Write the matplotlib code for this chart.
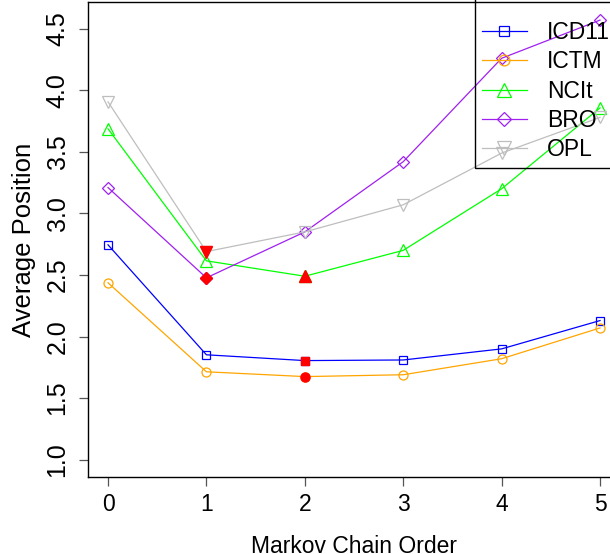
import numpy as np
import matplotlib.pyplot as plt
from matplotlib.patches import Rectangle

plt.rcParams['font.family'] = ['Liberation Sans', 'DejaVu Sans']

order = [0, 1, 2, 3, 4, 5]

icd11 = [2.745, 1.852, 1.805, 1.81, 1.90, 2.13]
ictm = [2.437, 1.714, 1.675, 1.69, 1.82, 2.07]
ncit = [3.687, 2.615, 2.49, 2.70, 3.20, 3.857]
bro = [3.21, 2.477, 2.85, 3.42, 4.26, 4.57]
opl = [3.906, 2.69, 2.85, 3.07, 3.49, 3.78]

names = ['ICD11', 'ICTM', 'NCIt', 'BRO', 'OPL']
colors = ['#0000ff', '#ffa500', '#00ff00', '#a020f0', '#bebebe']
markers = ['s', 'o', '^', 'D', 'v']
msizes = [6, 6.5, 8, 6, 8]

fig = plt.figure(figsize=(6.10, 5.54), dpi=100)
ax = fig.add_axes([0.1448, 0.1384, 0.8711, 0.858])

series = [icd11, ictm, ncit, bro, opl]
for vals, name, c, m, ms in zip(series, names, colors, markers, msizes):
    ax.plot(order, vals, color=c, lw=0.9, marker=m, ms=ms, mfc='none',
            mec=c, mew=0.9, label=name)

# best (lowest) order of each series, filled red
for vals, m, ms in zip(series, markers, msizes):
    i = int(np.argmin(vals))
    ax.plot(order[i], vals[i], marker=m, ms=ms, color='red', ls='none', zorder=5)

ax.set_xlim(-0.2, 5.2)
ax.set_ylim(0.857, 4.717)
ax.set_xticks(order)
ax.set_yticks([1.0, 1.5, 2.0, 2.5, 3.0, 3.5, 4.0, 4.5])
ax.set_yticklabels(['1.0', '1.5', '2.0', '2.5', '3.0', '3.5', '4.0', '4.5'],
                   rotation=90, va='center')
ax.tick_params(direction='out', length=6.5, width=0.9, color='#555555')
ax.tick_params(axis='x', labelsize=16.5, pad=5)
ax.tick_params(axis='y', labelsize=18, pad=7)
for s in ax.spines.values():
    s.set_linewidth(1.0)

ax.set_xlabel('Markov Chain Order', fontsize=16.5)
ax.xaxis.set_label_coords(0.5, -0.122)
ax.set_ylabel('Average Position', fontsize=18.5)
ax.yaxis.set_label_coords(-0.098, 0.5)

leg = ax.legend(loc='upper left', bbox_to_anchor=(0.790, 0.9626),
                bbox_transform=fig.transFigure, frameon=False, fontsize=16.5,
                borderpad=0, borderaxespad=0, handlelength=1.95,
                handletextpad=0.9, labelspacing=0.28, markerscale=1.2)
fig.patches.append(Rectangle((475 / 610, 1 - 168 / 554), 0.3, 0.4,
                             transform=fig.transFigure, fill=False,
                             lw=1.0, ec='black', clip_on=False))

fig.savefig('out.png', dpi=100)
